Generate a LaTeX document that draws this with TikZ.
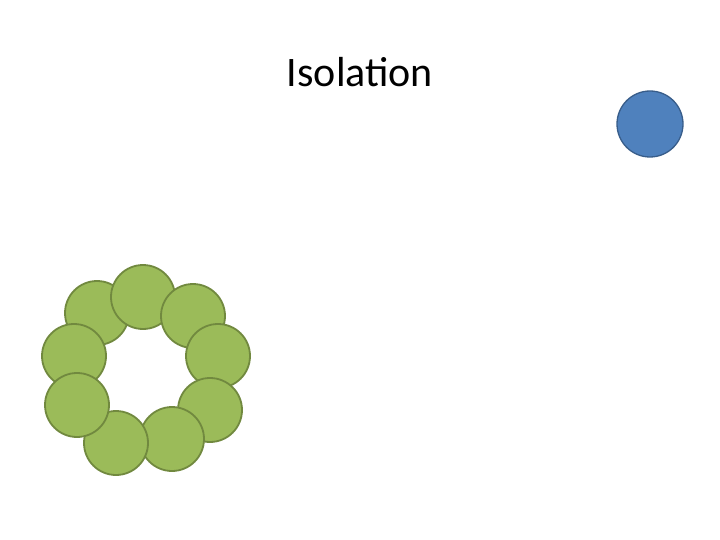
\documentclass[tikz,border=0pt]{standalone}
\usepackage{fontspec}
\setmainfont{Carlito}
\usepackage{xcolor}
\usepackage{tikz}
\definecolor{cellgreen}{RGB}{155, 187, 89}
\definecolor{cellgreenline}{RGB}{113, 137, 63}
\definecolor{loneblue}{RGB}{79, 129, 189}
\definecolor{loneblueline}{RGB}{56, 93, 138}

\begin{document}
\begin{tikzpicture}[x=1pt, y=-1pt,
    cell/.style={circle, fill=cellgreen, draw=cellgreenline, line width=1.8pt, minimum size=64pt, inner sep=0pt},
    lone/.style={circle, fill=loneblue, draw=loneblueline, line width=1.3pt, minimum size=66pt, inner sep=0pt}]
    \useasboundingbox (0,0) rectangle (720,540);

    \node (title) at (360, 72) {\fontsize{42}{50}\selectfont Isolation};

    \node[lone] (outsider) at (650, 124) {};

    % ring of cells
    \node[cell] (c1) at (97, 313) {};
    \node[cell] (c2) at (143, 297) {};
    \node[cell] (c3) at (193, 316) {};
    \node[cell] (c4) at (218, 356) {};
    \node[cell] (c5) at (210, 410) {};
    \node[cell] (c6) at (172, 439) {};
    \node[cell] (c7) at (116, 443) {};
    \node[cell] (c8) at (74, 356) {};
    \node[cell] (c9) at (77, 405) {};
\end{tikzpicture}
\end{document}
